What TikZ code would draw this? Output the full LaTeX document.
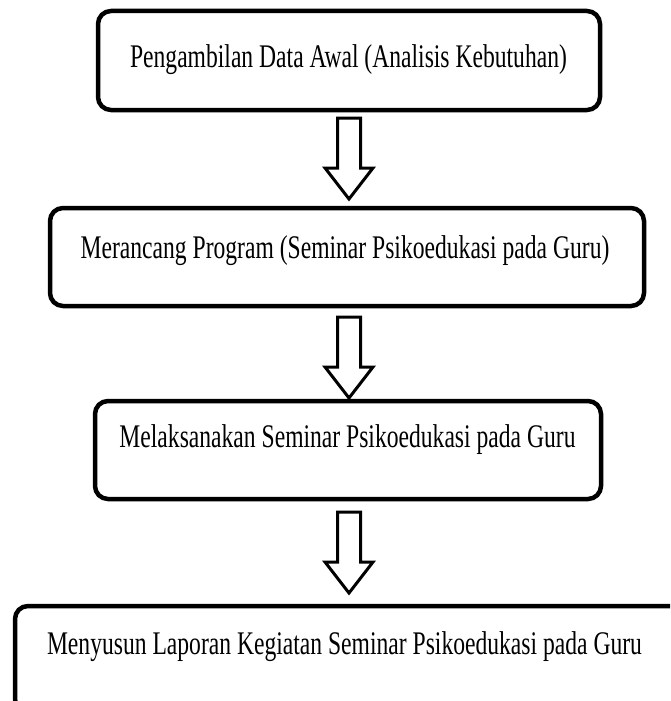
\documentclass[tikz,border=0pt]{standalone}
\usepackage{fontspec}
\setmainfont{Liberation Serif}[FakeStretch=0.715]
\begin{document}
\begin{tikzpicture}[x=1pt,y=-1pt,
  stepbox/.style={draw=black, line width=4.5pt, rounded corners=13pt, fill=none,
    inner sep=0pt, outer sep=0pt},
  lbl/.style={inner sep=0pt, outer sep=0pt, anchor=base, font=\fontsize{33}{39}\selectfont},
  arrowline/.style={draw=black, line width=3pt, fill=white, line join=miter},
  downarrow/.pic={\draw[arrowline] (-11.5,0) -- (11.5,0) -- (11.5,50) -- (24,50) -- (0,81) -- (-24,50) -- (-11.5,50) -- cycle;}]
\useasboundingbox (0,0) rectangle (670,701);
\clip (0,0) rectangle (670,701);
\fill[white] (0,0) rectangle (670,701);
% boxes
\node[stepbox, minimum width=502pt, minimum height=99pt] (b1) at (349,60.5) {};
\node[stepbox, minimum width=594pt, minimum height=98pt] (b2) at (347,257) {};
\node[stepbox, minimum width=506pt, minimum height=98pt] (b3) at (348,450) {};
\node[stepbox, minimum width=675pt, minimum height=106pt] (b4) at (352.5,659) {};
% texts
\node[lbl] (t1) at (348.5,67) {Pengambilan Data Awal (Analisis Kebutuhan)};
\node[lbl] (t2) at (345,258) {Merancang Program (Seminar Psikoedukasi pada Guru)};
\node[lbl] (t3) at (347.5,447) {Melaksanakan Seminar Psikoedukasi pada Guru};
\node[lbl] (t4) at (344.5,654) {Menyusun Laporan Kegiatan Seminar Psikoedukasi pada Guru};
% arrows
\coordinate (a1) at (349,118);
\coordinate (a2) at (349,317);
\coordinate (a3) at (349,512);
\pic at (a1) {downarrow};
\pic at (a2) {downarrow};
\pic at (a3) {downarrow};
\end{tikzpicture}
\end{document}
